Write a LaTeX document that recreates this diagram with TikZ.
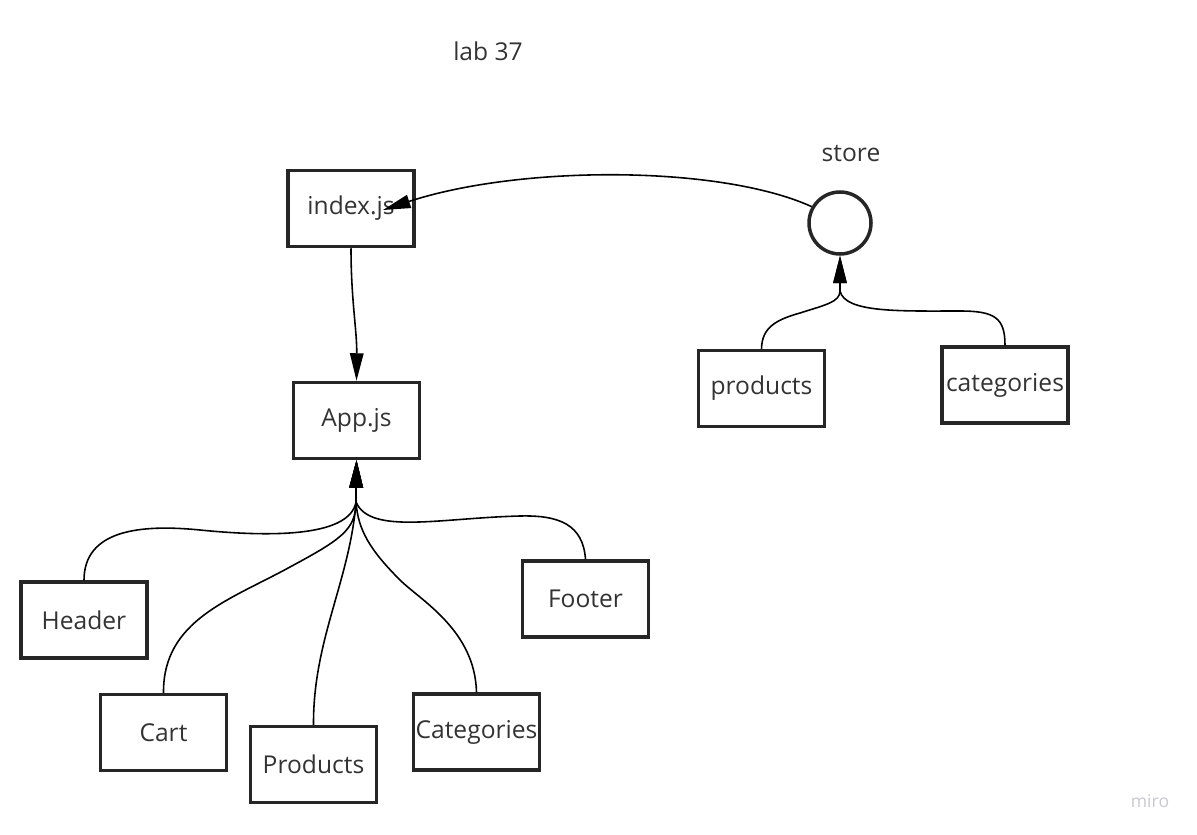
\documentclass[tikz,border=0pt]{standalone}
\usepackage{fontspec}
\setmainfont{Open Sans}
\usetikzlibrary{arrows.meta}
\definecolor{txtgray}{RGB}{51,51,51}
\definecolor{mirogray}{RGB}{200,200,206}

\begin{document}
\begin{tikzpicture}[x=0.02cm, y=-0.02cm,
  every node/.style={font=\fontsize{14}{16}\selectfont, text=txtgray},
  box/.style={draw=black!85, line width=2pt, minimum width=2.52cm,
              minimum height=1.52cm, inner sep=0pt},
  link/.style={-{Triangle[length=0.55cm, width=0.27cm]}, line width=0.9pt}]
  \useasboundingbox (0,0) rectangle (1197,835);
  \node (title) at (488,51) {lab 37};

  % component tree
  \node[box] (index) at (351,208.5) {index.js};
  \node[box] (app) at (356.5,420.5) {App.js};
  \node[box] (header) at (84,620) {Header};
  \node[box] (cart) at (163.5,732.5) {Cart};
  \node[box] (prods) at (313.5,764.5) {Products};
  \node[box] (cats) at (476.5,732) {Categories};
  \node[box] (footer) at (585.5,599) {Footer};

  % redux store
  \node[draw=black!85, line width=2pt, circle, minimum size=1.24cm] (store) at (840,223) {};
  \node (storelbl) at (851,154) {store};
  \node[box] (products) at (761.5,388.5) {products};
  \node[box] (categories) at (1005,385) {categories};

  \coordinate (appin) at (356,502);
  \coordinate (storein) at (840,291);
  \coordinate (indexin) at (383,210);

  \draw[link] (store.150) .. controls (720,165) and (520,165) .. (indexin);
  \draw[link] (index.south) .. controls (351,300) and (357,330) .. (app.north);

  \draw[link] (header.north) .. controls (84,530) and (140,524) .. (200,530)
    .. controls (280,538) and (350,535) .. (appin) -- (app.south);
  \draw[link] (cart.north) .. controls (163,620) and (230,600) .. (290,567)
    .. controls (340,540) and (356,530) .. (appin) -- (app.south);
  \draw[link] (prods.north) .. controls (313,640) and (350,580) .. (appin) -- (app.south);
  \draw[link] (cats.north) .. controls (475,630) and (420,600) .. (400,580)
    .. controls (370,550) and (358,530) .. (appin) -- (app.south);
  \draw[link] (footer.north) .. controls (583,525) and (560,515) .. (520,516)
    .. controls (440,518) and (370,535) .. (appin) -- (app.south);

  \draw[link] (products.north) .. controls (762,328) and (775,320) .. (800,313)
    .. controls (825,305) and (840,302) .. (storein) -- (store.south);
  \draw[link] (categories.north) .. controls (1005,318) and (995,311) .. (960,311)
    .. controls (900,311) and (845,313) .. (storein) -- (store.south);

  \node[text=mirogray, font=\fontsize{10}{12}\selectfont] (miro) at (1150,801) {miro};
\end{tikzpicture}
\end{document}
